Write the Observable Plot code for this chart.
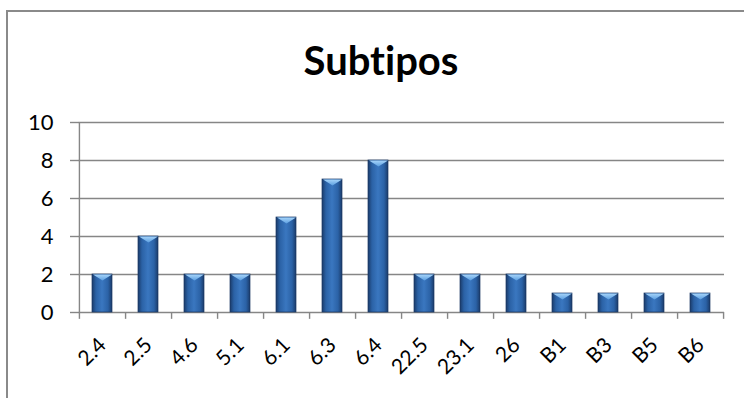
<!DOCTYPE html>
<html>
<head>
<meta charset="utf-8">
<script src="https://cdn.jsdelivr.net/npm/d3@7"></script>
<script src="https://cdn.jsdelivr.net/npm/@observablehq/plot@0.6"></script>
<style>
  html, body { margin: 0; padding: 0; background: #fff; }
  #wrap { position: relative; width: 744px; height: 398px; overflow: hidden; background: #fff; }
  #border { position: absolute; left: 6px; top: 10px; width: 900px; height: 600px; border: 2px solid #8a8a8a; box-sizing: border-box; pointer-events: none; }
  #title { position: relative; height: 100px; line-height: 40px; padding-top: 40px; padding-left: 18px; box-sizing: border-box; text-align: center; font-family: Lato, "Open Sans", sans-serif; font-weight: bold; font-size: 40px; color: #000; font-variant-ligatures: none; font-feature-settings: "liga" 0; }
  #chart { position: relative; }
</style>
</head>
<body>
<div id="wrap">
  <div id="border"></div>
  <div id="title">Subtipos</div>
  <div id="chart"></div>
</div>
<script>
const categories = ["2.4", "2.5", "4.6", "5.1", "6.1", "6.3", "6.4", "22.5", "23.1", "26", "B1", "B3", "B5", "B6"];
const values = [2, 4, 2, 2, 5, 7, 8, 2, 2, 2, 1, 1, 1, 1];
const yTicks = [0, 2, 4, 6, 8, 10];

const data = categories.map((c, i) => ({cat: c, value: values[i]}));

const width = 744, height = 298;
const marginLeft = 78, marginRight = 20, marginTop = 22, marginBottom = 86;
const step = (width - marginLeft - marginRight) / categories.length;
const grey = "#868686";
const xFont = 21, yFont = 22;

const cap = {
  draw(context) {
    context.moveTo(-9.5, 0);
    context.lineTo(9.5, 0);
    context.lineTo(0, 6);
    context.closePath();
  }
};

const plot = Plot.plot({
  width, height, marginLeft, marginRight, marginTop, marginBottom,
  style: {fontFamily: "Lato, 'Open Sans', sans-serif", background: "transparent", color: "#000"},
  x: {domain: categories, paddingInner: 0.57, paddingOuter: 0.285, label: null},
  y: {domain: [0, 10], label: null},
  marks: [
    Plot.ruleY(yTicks, {stroke: grey, strokeWidth: 1.4}),
    Plot.axisY({ticks: yTicks, tickSize: 8, tickPadding: 17, stroke: grey, strokeWidth: 1.4, label: null, strokeOpacity: 1}),
    Plot.barY(data, {x: "cat", y: "value", fill: "url(#barGrad)", stroke: "#1a3863", strokeWidth: 0.7}),
    Plot.dot(data, {x: "cat", y: "value", symbol: cap, fill: "url(#capGrad)", stroke: "none"}),
    Plot.ruleX([categories[0]], {x: d => d, y1: 10, y2: -0.36, dx: -step / 2, stroke: grey, strokeWidth: 1.4}),
    Plot.ruleX(categories, {x: d => d, y1: 0, y2: -0.36, dx: step / 2, stroke: grey, strokeWidth: 1.4}),
    Plot.axisX({tickSize: 0, tickPadding: 29, tickRotate: -45, label: null})
  ]
});

const svg = d3.select(plot);
svg.selectAll("text").each(function () {
  let isX = false;
  for (let n = this; n && n !== plot; n = n.parentNode) {
    const a = n.getAttribute && n.getAttribute("aria-label");
    if (a && a.indexOf("x-axis") === 0) { isX = true; break; }
  }
  const fs = isX ? xFont : yFont;
  this.setAttribute("font-size", fs);
  this.style.fontSize = fs + "px";
});
const defs = svg.insert("defs", ":first-child");
const g = defs.append("linearGradient").attr("id", "barGrad").attr("x1", 0).attr("x2", 1).attr("y1", 0).attr("y2", 0);
[[0, "#1a3b6a"], [0.2, "#2b62a6"], [0.5, "#3a77c0"], [0.8, "#2b62a6"], [1, "#1a3b6a"]].forEach(([o, c]) =>
  g.append("stop").attr("offset", o).attr("stop-color", c));
const cg = defs.append("linearGradient").attr("id", "capGrad").attr("x1", 0).attr("x2", 0).attr("y1", 0).attr("y2", 1);
[[0, "#a6d4fa"], [1, "#5c9fe0"]].forEach(([o, c]) =>
  cg.append("stop").attr("offset", o).attr("stop-color", c));

document.getElementById("chart").appendChild(plot);
</script>
</body>
</html>
